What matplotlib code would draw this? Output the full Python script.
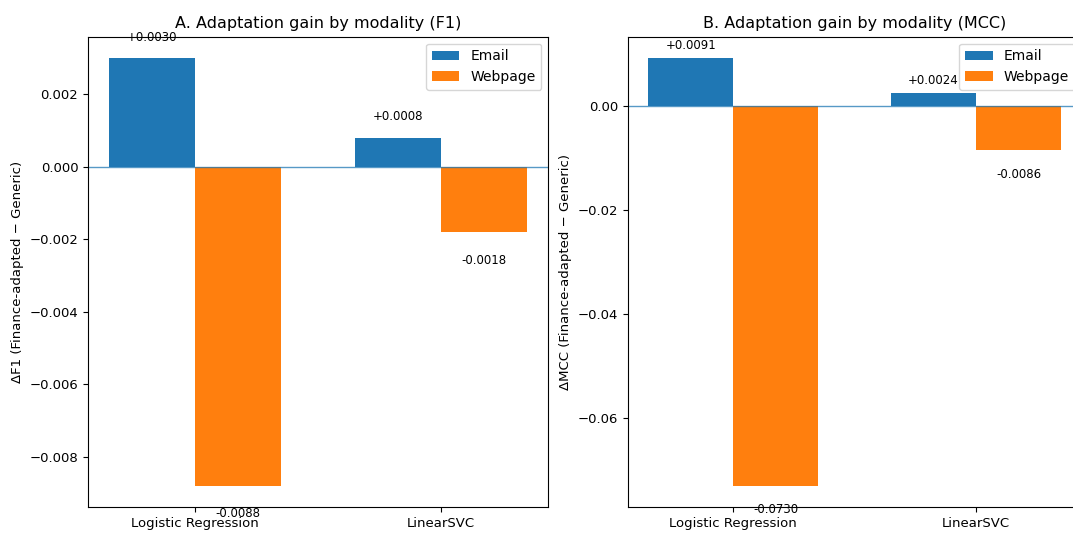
import numpy as np
import matplotlib
matplotlib.use("Agg")
import matplotlib.pyplot as plt

models = ["Logistic Regression", "LinearSVC"]
modalities = ["Email", "Webpage"]
f1_email = [0.0030, 0.0008]
f1_web = [-0.0088, -0.0018]
mcc_email = [0.0091, 0.0024]
mcc_web = [-0.0730, -0.0086]

plt.rcParams["font.size"] = 9.5


def panel(ax, email, web, title, ylabel, pad_up, pad_down):
    x = np.arange(len(models))
    w = 0.35
    ax.bar(x - w / 2, email, w, label=modalities[0], color="#1f77b4")
    ax.bar(x + w / 2, web, w, label=modalities[1], color="#ff7f0e")
    ax.axhline(0, color="#1f77b4", lw=1, alpha=0.75)
    for xs, vals in [(x - w / 2, email), (x + w / 2, web)]:
        for xi, v in zip(xs, vals):
            if v >= 0:
                ax.text(xi, v + pad_up, f"{v:+.4f}", ha="center", va="bottom", fontsize=8.5)
            else:
                ax.text(xi, v - pad_down, f"{v:+.4f}", ha="center", va="top", fontsize=8.5)
    ax.set_xticks(x)
    ax.set_xticklabels(models)
    ax.set_title(title, fontsize=11.5)
    ax.set_ylabel(ylabel)
    ax.legend(loc="upper right", fontsize=10)


fig = plt.figure(figsize=(10.73, 5.33), dpi=100)
ax1 = fig.add_axes([0.082, 0.049, 0.429, 0.882])
ax2 = fig.add_axes([0.585, 0.049, 0.423, 0.882])

panel(ax1, f1_email, f1_web, "A. Adaptation gain by modality (F1)",
      "\u0394F1 (Finance-adapted \u2212 Generic)", 0.0004, 0.0006)
panel(ax2, mcc_email, mcc_web, "B. Adaptation gain by modality (MCC)",
      "\u0394MCC (Finance-adapted \u2212 Generic)", 0.0012, 0.0034)

fig.savefig("out.png", dpi=100)
